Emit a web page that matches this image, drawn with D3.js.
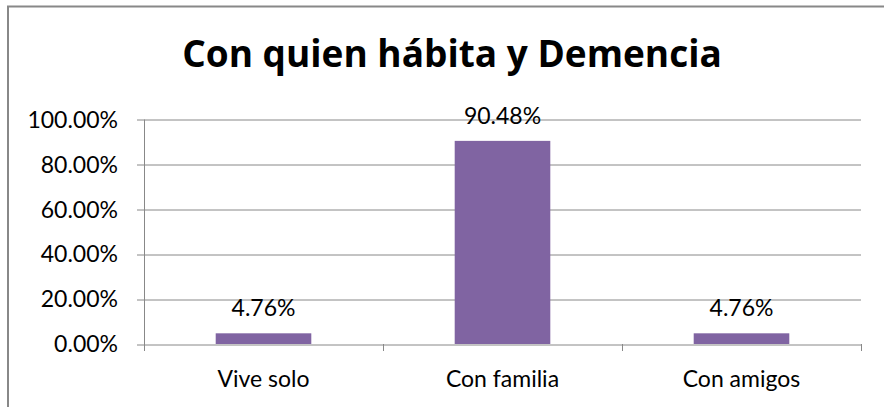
<!DOCTYPE html>
<html>
<head>
<meta charset="utf-8">
<script src="https://cdn.jsdelivr.net/npm/d3@7"></script>
<style>
  body { margin: 0; background: #fff; }
  text { font-family: Lato, "Open Sans", sans-serif; fill: #000; }
  .title { font-family: "Open Sans", Lato, sans-serif; }
</style>
</head>
<body>
<svg id="chart" width="884" height="407"></svg>
<script>
const title = "Con quien hábita y Demencia";
const categories = ["Vive solo", "Con familia", "Con amigos"];
const values = [0.0476, 0.9048, 0.0476];
const yTicks = [0, 0.2, 0.4, 0.6, 0.8, 1.0];

const svg = d3.select("#chart");
const margin = { top: 119.5, right: 23, bottom: 63, left: 144 },
  width = 884 - margin.left - margin.right,
  height = 407 - margin.top - margin.bottom;

// outer frame (only top and left edges are visible in the crop)
svg.append("path")
  .attr("d", "M8,407 V6.5 H884")
  .attr("fill", "none")
  .attr("stroke", "#888")
  .attr("stroke-width", 2);

svg.append("text")
  .attr("class", "title")
  .attr("x", 452)
  .attr("y", 67)
  .attr("text-anchor", "middle")
  .attr("font-size", 37)
  .attr("font-weight", "bold")
  .text(title);

const g = svg.append("g").attr("transform", `translate(${margin.left},${margin.top})`);

const x = d3.scaleBand().domain(categories).range([0, width]).paddingInner(0.6).paddingOuter(0.3);
const xb = d3.scaleBand().domain(categories).range([0, width]);
const y = d3.scaleLinear().domain([0, 1]).range([height, 0]);

// gridlines
g.selectAll(".grid")
  .data(yTicks)
  .enter()
  .append("line")
  .attr("x1", -7)
  .attr("x2", width)
  .attr("y1", (d) => Math.round(y(d)) + 0.5)
  .attr("y2", (d) => Math.round(y(d)) + 0.5)
  .attr("stroke", "#888");

// y axis
g.append("line")
  .attr("x1", 0.5).attr("x2", 0.5)
  .attr("y1", y(1)).attr("y2", y(0))
  .attr("stroke", "#888");

g.selectAll(".ylab")
  .data(yTicks)
  .enter()
  .append("text")
  .attr("x", -26)
  .attr("y", (d) => y(d))
  .attr("dy", "0.36em")
  .attr("text-anchor", "end")
  .attr("font-size", 23)
  .text((d) => d3.format(".2%")(d));

// x axis ticks at category boundaries
const bounds = categories.map((c) => xb(c)).concat([width]);
g.selectAll(".xtick")
  .data(bounds)
  .enter()
  .append("line")
  .attr("x1", (d) => Math.round(d) + 0.5)
  .attr("x2", (d) => Math.round(d) + 0.5)
  .attr("y1", height)
  .attr("y2", height + 7)
  .attr("stroke", "#888");

g.selectAll(".xlab")
  .data(categories)
  .enter()
  .append("text")
  .attr("x", (d) => xb(d) + xb.bandwidth() / 2)
  .attr("y", height + 43)
  .attr("text-anchor", "middle")
  .attr("font-size", 23)
  .text((d) => d);

// bars
g.selectAll(".bar")
  .data(values)
  .enter()
  .append("rect")
  .attr("x", (d, i) => x(categories[i]))
  .attr("y", (d) => y(d))
  .attr("width", x.bandwidth())
  .attr("height", (d) => height - y(d))
  .attr("fill", "#8064A2");

g.selectAll(".val")
  .data(values)
  .enter()
  .append("text")
  .attr("x", (d, i) => xb(categories[i]) + xb.bandwidth() / 2)
  .attr("y", (d) => y(d) - 17)
  .attr("text-anchor", "middle")
  .attr("font-size", 23)
  .text((d) => d3.format(".2%")(d));
</script>
</body>
</html>
